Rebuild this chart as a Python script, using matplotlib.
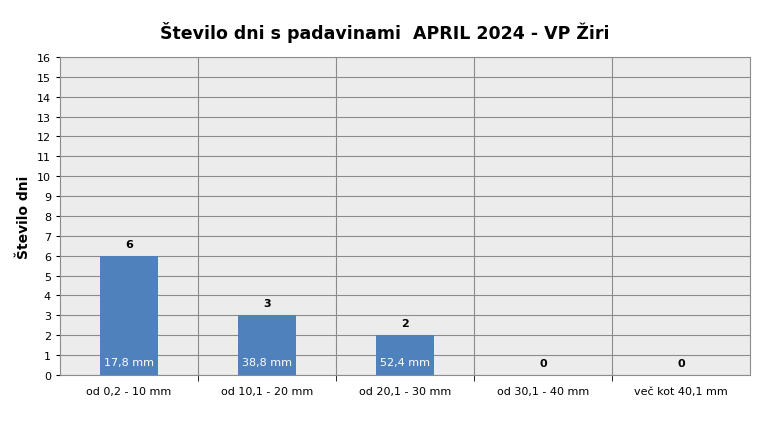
import matplotlib.pyplot as plt
import numpy as np

categories = ["od 0,2 - 10 mm", "od 10,1 - 20 mm", "od 20,1 - 30 mm", "od 30,1 - 40 mm", "več kot 40,1 mm"]
days = [6, 3, 2, 0, 0]
amounts = ["17,8 mm", "38,8 mm", "52,4 mm", "", ""]

fig = plt.figure(figsize=(7.7, 4.39), dpi=100)
ax = fig.add_axes([0.078, 0.1435, 0.896, 0.7245])
ax.set_facecolor("#ececec")

x = np.arange(len(categories))
ax.bar(x, days, width=0.42, color="#4f81bd", zorder=3)

for i, v in enumerate(days):
    ax.text(i, v + 0.35, str(v), ha="center", va="bottom", fontsize=8, fontweight="bold", zorder=4)
    if amounts[i]:
        ax.text(i, 0.65, amounts[i], ha="center", va="center", fontsize=8, color="white", zorder=4)

ax.set_xlim(-0.5, len(categories) - 0.5)
ax.set_ylim(0, 16)
ax.set_yticks(range(0, 17))
ax.set_xticks(x)
ax.set_xticklabels(categories, fontsize=8)
ax.tick_params(axis="y", labelsize=8, length=3)
ax.tick_params(axis="x", length=0, pad=8)
ax.set_xticks(np.arange(0.5, len(categories) - 0.5), minor=True)
ax.tick_params(axis="x", which="minor", length=4)
ax.grid(axis="y", color="#8c8c8c", linewidth=0.8, zorder=0)
ax.grid(axis="x", which="minor", color="#8c8c8c", linewidth=0.8, zorder=0)
for s in ax.spines.values():
    s.set_color("#8c8c8c")

ax.set_ylabel("Število dni", fontsize=10, fontweight="bold")
fig.suptitle("Število dni s padavinami  APRIL 2024 - VP Žiri", fontsize=12.5, fontweight="bold", y=0.95)

fig.savefig("out.png", dpi=100)
